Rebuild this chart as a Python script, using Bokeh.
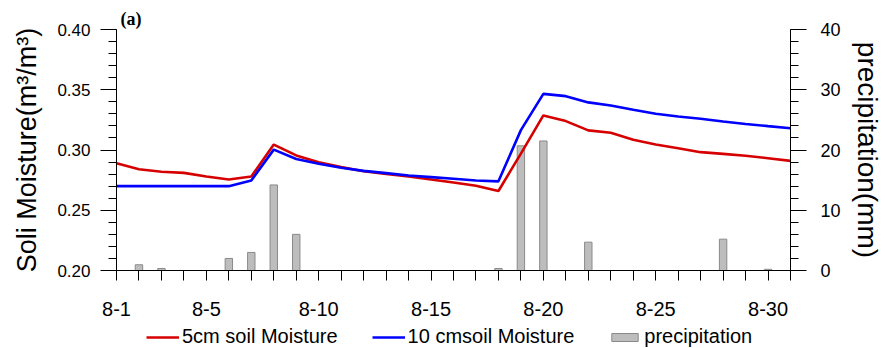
from bokeh.plotting import figure
from bokeh.layouts import column
from bokeh.models import (Range1d, LinearAxis, FixedTicker, Legend, LegendItem, Title)
from bokeh.embed import file_html
from bokeh.resources import INLINE

# ---- data ----
days = list(range(1, 32))
soil_5cm = [0.289, 0.284, 0.282, 0.281, 0.278, 0.2755, 0.278, 0.3045, 0.2955, 0.2899,
            0.2858, 0.2824, 0.2802, 0.2780, 0.2755, 0.2730, 0.2703, 0.2660, 0.2970, 0.3287,
            0.3240, 0.3163, 0.3143, 0.3085, 0.3046, 0.3015, 0.2982, 0.2968, 0.2952, 0.2932,
            0.2910]
soil_10cm = [0.270, 0.270, 0.270, 0.270, 0.270, 0.270, 0.2747, 0.3003, 0.2925, 0.2886,
             0.2852, 0.2827, 0.2808, 0.2789, 0.2775, 0.2761, 0.2747, 0.2740, 0.3165, 0.3466,
             0.3447, 0.3395, 0.3369, 0.3334, 0.3301, 0.3278, 0.3259, 0.3237, 0.3216, 0.3198,
             0.3181]
precip_days = [2, 3, 6, 7, 8, 9, 18, 19, 20, 22, 28, 30]
precip_mm = [0.95, 0.33, 2.0, 3.0, 14.2, 6.0, 0.33, 20.7, 21.5, 4.7, 5.2, 0.2]

x_tick_days = list(range(1, 32))
x_tick_labels = {1: "8-1", 5: "8-5", 10: "8-10", 15: "8-15", 20: "8-20", 25: "8-25", 30: "8-30"}
left_ticks = [0.20, 0.25, 0.30, 0.35, 0.40]
right_ticks = [0, 10, 20, 30, 40]
series_names = ["5cm soil Moisture", "10 cmsoil Moisture", "precipitation"]

FONT = "Liberation Sans"
RED = "#d60000"
BLUE = "#0000ff"
BAR_FILL = "#bdbdbd"
BAR_LINE = "#8a8a8a"

p = figure(frame_width=674, frame_height=241, output_backend="svg", toolbar_location=None,
           x_range=Range1d(1, 31), y_range=Range1d(0.2, 0.4),
           min_border_left=116, min_border_right=95, min_border_top=29, min_border_bottom=54,
           x_axis_location=None, y_axis_location=None)
p.outline_line_color = None
p.xgrid.visible = False
p.ygrid.visible = False
p.background_fill_color = "white"
p.border_fill_color = "white"

p.title = Title(text="(a)", align="left", offset=4, standoff=1,
                text_font="Liberation Serif", text_font_style="bold",
                text_font_size="18px", text_color="black")

p.extra_y_ranges = {"pr": Range1d(0, 40)}

p.vbar(x=precip_days, top=precip_mm, bottom=0, width=0.33, y_range_name="pr",
       fill_color=BAR_FILL, line_color=BAR_LINE, line_width=1)
p.line(days, soil_5cm, line_color=RED, line_width=2.6)
p.line(days, soil_10cm, line_color=BLUE, line_width=2.6)

# bottom axis
xa = LinearAxis(ticker=FixedTicker(ticks=x_tick_days, minor_ticks=[]))
xa.major_label_overrides = {d: x_tick_labels.get(d, "") for d in x_tick_days}
xa.major_tick_out = 10
xa.major_tick_in = 0
xa.minor_tick_out = 0
xa.major_label_standoff = 21
xa.major_label_text_font = FONT
xa.major_label_text_font_size = "20px"
xa.major_label_text_color = "black"
xa.axis_line_color = "black"
p.add_layout(xa, "below")

# left axis
ya = LinearAxis(ticker=FixedTicker(ticks=left_ticks,
                                   minor_ticks=[round(0.2 + 0.01 * i, 2) for i in range(21)]),
                axis_label="Soli Moisture(m³/m³)")
ya.major_label_overrides = {t: f"{t:.2f}" for t in left_ticks}
ya.major_tick_out = 16
ya.major_tick_in = 0
ya.minor_tick_out = 8
ya.minor_tick_in = 0
ya.major_label_standoff = 10
ya.major_label_text_font = FONT
ya.major_label_text_font_size = "17px"
ya.major_label_text_color = "black"
ya.axis_label_text_font = FONT
ya.axis_label_text_font_style = "normal"
ya.axis_label_text_font_size = "27px"
ya.axis_label_text_color = "black"
ya.axis_label_standoff = 12
p.add_layout(ya, "left")

# right axis
ra = LinearAxis(y_range_name="pr",
                ticker=FixedTicker(ticks=right_ticks, minor_ticks=list(range(0, 41, 2))),
                axis_label="precipitation(mm)")
ra.major_tick_out = 16
ra.major_tick_in = 0
ra.minor_tick_out = 8
ra.minor_tick_in = 0
ra.major_label_standoff = 14
ra.major_label_text_font = FONT
ra.major_label_text_font_size = "18px"
ra.major_label_text_color = "black"
ra.axis_label_text_font = FONT
ra.axis_label_text_font_style = "normal"
ra.axis_label_text_font_size = "28px"
ra.axis_label_text_color = "black"
ra.axis_label_standoff = 8
p.add_layout(ra, "right")

# legend strip below the chart (same horizontal frame as the chart); its renderers
# hold the same data but lie outside this strip's ranges, so only the legend shows
lg = figure(frame_width=674, frame_height=24, output_backend="svg", toolbar_location=None,
            x_range=Range1d(100, 101), y_range=Range1d(100, 101),
            min_border_left=116, min_border_right=95, min_border_top=0, min_border_bottom=0,
            x_axis_location=None, y_axis_location=None)
lg.outline_line_color = None
lg.xgrid.visible = False
lg.ygrid.visible = False
k5 = lg.line(days, soil_5cm, line_color=RED, line_width=2.6)
k10 = lg.line(days, soil_10cm, line_color=BLUE, line_width=2.6)
kp = lg.vbar(x=precip_days, top=precip_mm, bottom=0, width=0.33,
             fill_color=BAR_FILL, line_color=BAR_LINE, line_width=1)

legend = Legend(items=[LegendItem(label=series_names[0], renderers=[k5]),
                       LegendItem(label=series_names[1], renderers=[k10]),
                       LegendItem(label=series_names[2], renderers=[kp])],
                orientation="horizontal", location=(30, 0),
                border_line_color=None, background_fill_alpha=0,
                label_text_font=FONT, label_text_font_size="20px", label_text_color="black",
                glyph_width=33, glyph_height=10, label_standoff=3, spacing=34,
                padding=0, margin=0)
lg.add_layout(legend, "center")

layout = column(p, lg, spacing=0)
open("out.html", "w").write(file_html(layout, INLINE))
